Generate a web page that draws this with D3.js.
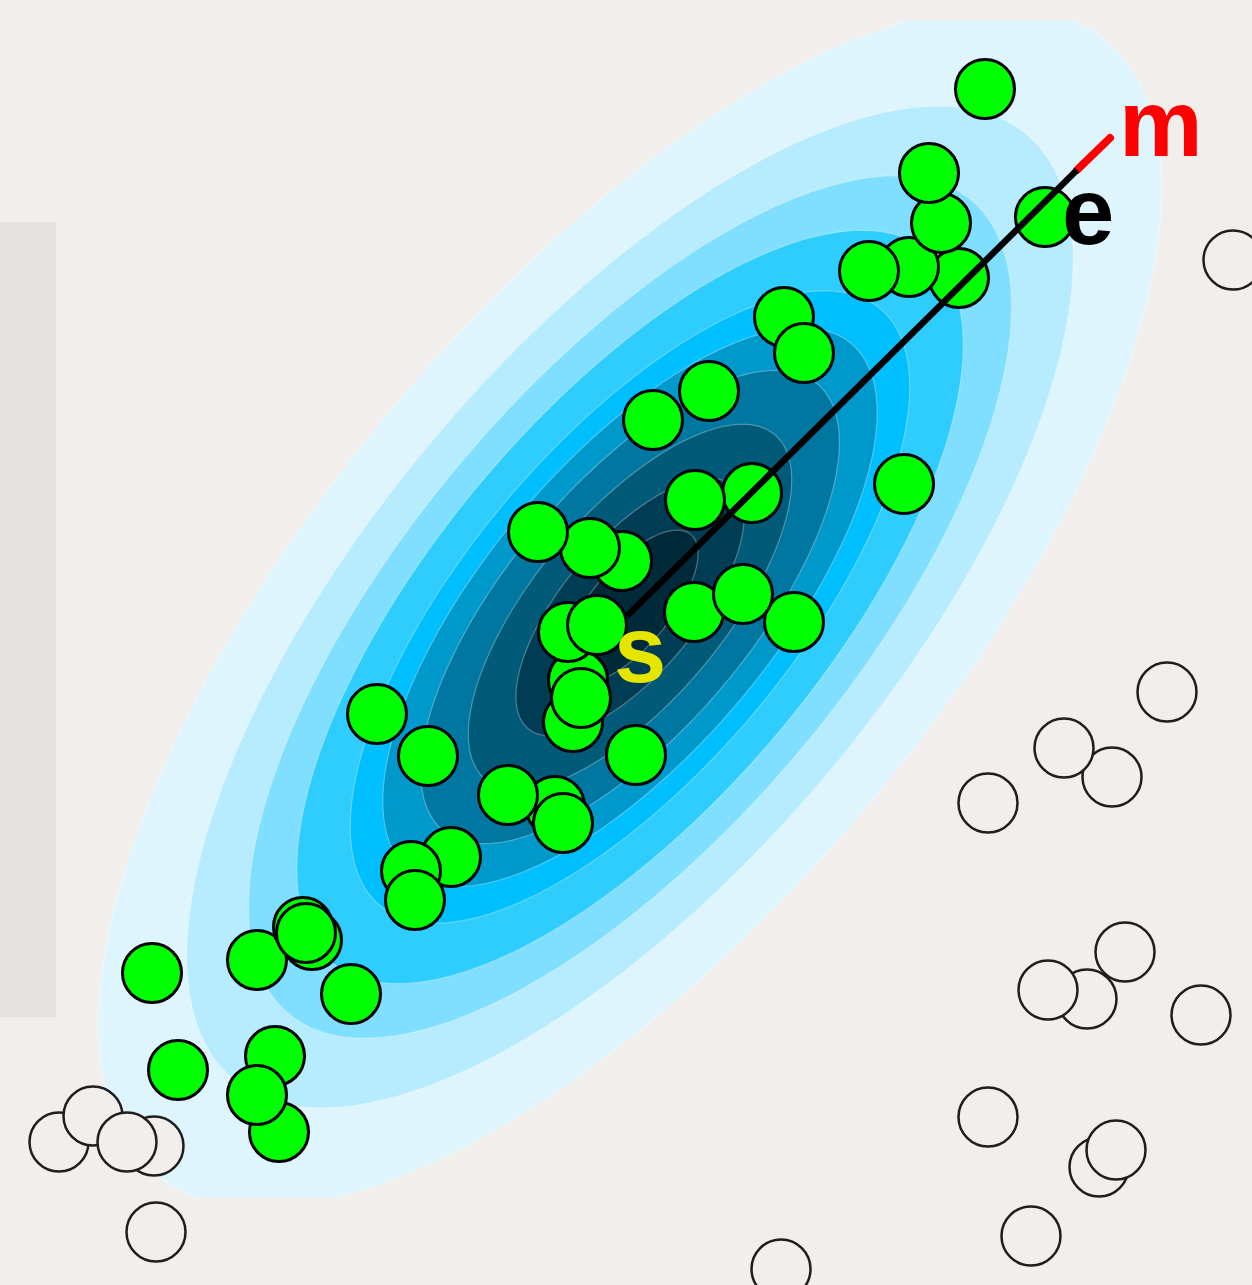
<!DOCTYPE html>
<html>
<head>
<meta charset="utf-8">
<script src="https://cdn.jsdelivr.net/npm/d3@7"></script>
<style>
  html, body { margin: 0; padding: 0; background: #f2eeeb; }
  svg { display: block; }
</style>
</head>
<body>
<div id="chart"></div>
<script>
var width = 1252, height = 1285;

// points inside the fitted region (data units, y up), in drawing order
var inside = [
  [2.79, 1.53], [2.75, 2.29], [2.57, 1.90], [1.78, 2.15], [1.52, 3.12],
  [3.51, 2.91], [2.57, 3.25], [3.03, 3.58], [3.12, 3.45], [3.06, 3.52],
  [4.51, 4.28], [4.11, 4.14], [4.15, 3.85], [5.55, 4.79], [5.63, 4.62],
  [5.08, 4.90], [4.28, 5.29], [3.77, 5.71], [6.36, 5.30], [5.73, 5.63],
  [5.78, 6.05], [5.81, 5.87], [5.68, 6.53], [5.97, 6.60], [6.94, 6.73],
  [7.94, 6.63], [7.43, 6.91], [6.22, 7.24], [5.90, 7.37], [5.38, 7.53],
  [7.52, 7.92], [6.95, 7.85], [9.04, 8.01], [6.53, 8.65], [7.09, 8.94],
  [7.84, 9.68], [8.04, 9.32], [9.59, 10.07], [9.09, 10.18], [8.69, 10.14],
  [9.41, 10.62], [9.29, 11.12], [10.45, 10.68], [9.85, 11.96]
];

// points outside
var outside = [
  [1.54, 1.39], [0.59, 1.43], [0.93, 1.69], [1.27, 1.43], [1.56, 0.53],
  [11.67, 5.93], [11.12, 5.08], [10.64, 5.37], [9.88, 4.82], [11.25, 3.33],
  [10.87, 2.86], [10.48, 2.95], [12.01, 2.70], [9.88, 1.68], [10.99, 1.18],
  [11.16, 1.35], [10.31, 0.49], [7.81, 0.16], [12.33, 10.25]
];

// s -> e along the main axis, e -> m the extension
var axisPoints = [
  { name: "s", x: 6.27, y: 6.69 },
  { name: "e", x: 10.77, y: 11.15 },
  { name: "m", x: 11.10, y: 11.47 }
];

// gaussian
var gaussMean = [6.30, 6.78];
var gaussSigma = [2.96, 1.24];   // along major / minor axis
var gaussAngle = 50;             // degrees, major axis
var gridBox = [[0.95, 11.65], [0.87, 12.65]];

var thresholds = [0.044, 0.114, 0.2, 0.293, 0.421, 0.509, 0.616, 0.749, 0.866, 0.95];
var bandColors = ["#dff5fe", "#b6ecfd", "#80dffe", "#2ecdfe", "#00bfff",
                  "#0099cc", "#0077a0", "#005a78", "#003c53", "#002a3a"];

var x = d3.scaleLinear().domain([0, 12.52]).range([0, width]);
var y = d3.scaleLinear().domain([0, 12.85]).range([height, 0]);

var svg = d3.select("#chart").append("svg")
    .attr("width", width)
    .attr("height", height);

svg.append("rect")
    .attr("width", width).attr("height", height)
    .attr("fill", "#f2eeeb");

// side panel
svg.append("rect")
    .attr("x", 0).attr("y", 222)
    .attr("width", 56).attr("height", 795)
    .attr("fill", "#e6e2df");

// density grid
var cell = 4;
var gx0 = x(gridBox[0][0]), gx1 = x(gridBox[0][1]);
var gy0 = y(gridBox[1][1]), gy1 = y(gridBox[1][0]);
var nx = Math.round((gx1 - gx0) / cell), ny = Math.round((gy1 - gy0) / cell);
var sx = (gx1 - gx0) / nx, sy = (gy1 - gy0) / ny;
var rad = gaussAngle * Math.PI / 180;
var values = new Float64Array(nx * ny);
for (var j = 0; j < ny; j++) {
  for (var i = 0; i < nx; i++) {
    var dx = x.invert(gx0 + (i + 0.5) * sx) - gaussMean[0];
    var dy = y.invert(gy0 + (j + 0.5) * sy) - gaussMean[1];
    var u = (dx * Math.cos(rad) + dy * Math.sin(rad)) / gaussSigma[0];
    var v = (-dx * Math.sin(rad) + dy * Math.cos(rad)) / gaussSigma[1];
    values[j * nx + i] = Math.exp(-(u * u + v * v) / 2);
  }
}

var contours = d3.contours().size([nx, ny]).thresholds(thresholds)(values);

var gridPath = d3.geoPath(d3.geoTransform({
  point: function(px, py) { this.stream.point(gx0 + px * sx, gy0 + py * sy); }
}));

svg.append("g")
    .attr("class", "contours")
  .selectAll("path")
  .data(contours)
  .enter()
  .append("path")
    .attr("d", gridPath)
    .attr("fill", function(d, k) { return bandColors[k]; })
    .attr("stroke", "#ffffff")
    .attr("stroke-opacity", 0.3)
    .attr("stroke-width", 1.2);

// outside points
svg.append("g")
  .selectAll("circle")
  .data(outside)
  .enter()
  .append("circle")
    .attr("cx", function(d) { return x(d[0]); })
    .attr("cy", function(d) { return y(d[1]); })
    .attr("r", 29.5)
    .attr("fill", "#f2eeeb")
    .attr("stroke", "#1e1e1e")
    .attr("stroke-width", 2.5);

// inside points
svg.append("g")
  .selectAll("circle")
  .data(inside)
  .enter()
  .append("circle")
    .attr("cx", function(d) { return x(d[0]); })
    .attr("cy", function(d) { return y(d[1]); })
    .attr("r", 29.5)
    .attr("fill", "#00ff00")
    .attr("stroke", "#000000")
    .attr("stroke-width", 3);

var s = axisPoints[0], e = axisPoints[1], m = axisPoints[2];

svg.append("line")
    .attr("x1", x(e.x)).attr("y1", y(e.y))
    .attr("x2", x(m.x)).attr("y2", y(m.y))
    .attr("stroke", "#ff0000")
    .attr("stroke-width", 8)
    .attr("stroke-linecap", "round");

svg.append("line")
    .attr("x1", x(s.x)).attr("y1", y(s.y))
    .attr("x2", x(e.x)).attr("y2", y(e.y))
    .attr("stroke", "#000000")
    .attr("stroke-width", 6.5);

// labels
var labelStyle = {
  s: { fill: "#e5e500", dx: -13, dy: 66 },
  e: { fill: "#000000", dx: -15, dy: 74 },
  m: { fill: "#ff0000", dx: 9, dy: 18 }
};

svg.append("g")
  .selectAll("text")
  .data(axisPoints)
  .enter()
  .append("text")
    .attr("x", function(d) { return x(d.x) + labelStyle[d.name].dx; })
    .attr("y", function(d) { return y(d.y) + labelStyle[d.name].dy; })
    .attr("fill", function(d) { return labelStyle[d.name].fill; })
    .attr("font-family", "'Liberation Sans', Arial, sans-serif")
    .attr("font-weight", "bold")
    .attr("font-size", 94)
    .text(function(d) { return d.name; });
</script>
</body>
</html>
